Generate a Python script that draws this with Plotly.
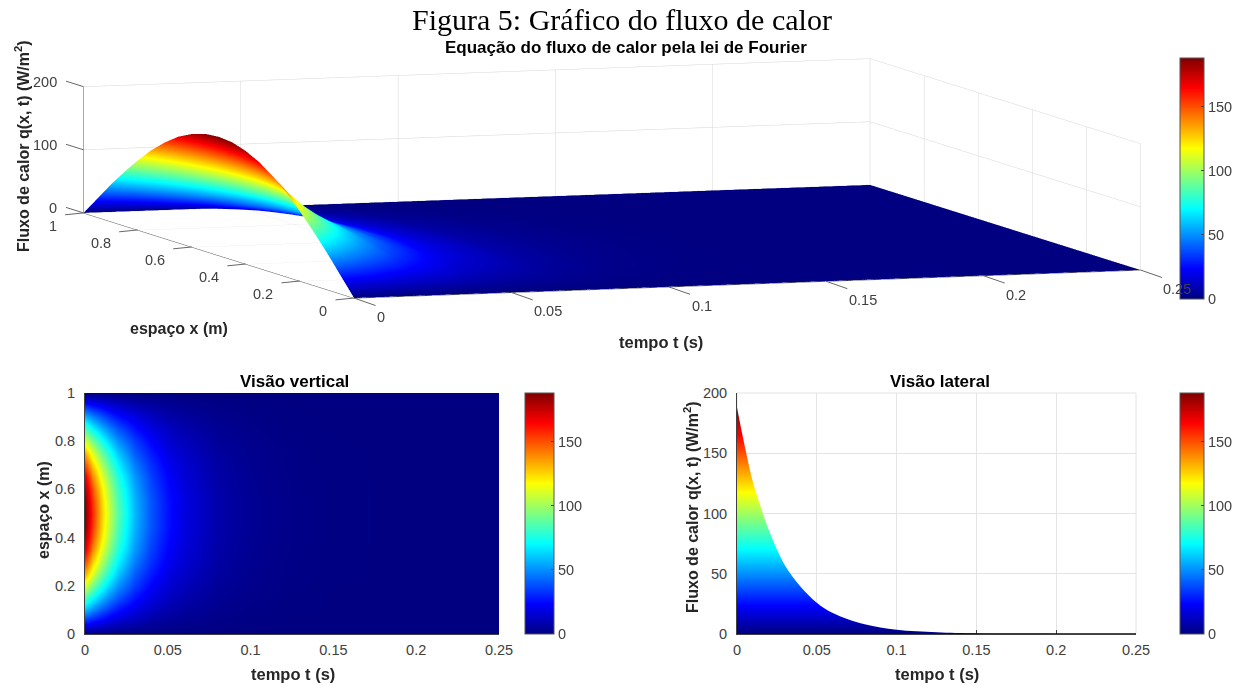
import plotly.graph_objects as go

# Values
tempo_t = [0, .005, .01, .015, .02, .03, .04, .05, .06, .08, .1, .125, .15, .2, .25]
espaco_x = [0, .05, .1, .15, .2, .25, .3, .35, .4, .45, .5,
            .55, .6, .65, .7, .75, .8, .85, .9, .95, 1]
q_x000 = [0]*15
q_x005 = [29, 24, 20, 16, 13, 9, 6, 4, 2.8, 1.2, .5, .2, .1, 0, 0]
q_x010 = [58, 48, 39, 32, 26, 18, 12, 8, 5.6, 2.5, 1.1, .4, .2, 0, 0]
q_x015 = [85, 70, 57, 47, 39, 26, 18, 12, 8.2, 3.6, 1.6, .6, .2, 0, 0]
q_x020 = [110, 91, 74, 61, 50, 34, 23, 15, 11, 4.7, 2.1, .8, .3, .1, 0]
q_x025 = [133, 110, 89, 74, 60, 40, 28, 18, 13, 5.7, 2.5, 1, .4, .1, 0]
q_x030 = [152, 125, 102, 84, 69, 46, 32, 21, 15, 6.5, 2.8, 1.1, .4, .1, 0]
q_x035 = [168, 138, 112, 93, 76, 51, 35, 23, 16, 7.1, 3.1, 1.2, .4, .1, 0]
q_x040 = [179, 147, 120, 99, 81, 54, 37, 25, 17, 7.6, 3.3, 1.3, .5, .1, 0]
q_x045 = [186, 153, 124, 103, 84, 56, 39, 26, 18, 7.9, 3.5, 1.4, .5, .1, 0]
q_x050 = [188, 155, 126, 105, 86, 57, 39, 26, 17.5, 8, 3.5, 1.4, .5, .1, 0]
metade = [q_x000, q_x005, q_x010, q_x015, q_x020, q_x025, q_x030, q_x035, q_x040, q_x045]
q_grade = metade + [q_x050] + metade[::-1]
envelope = q_x050

ticks_t = [0, .05, .1, .15, .2, .25]
ticks_x = [0, .2, .4, .6, .8, 1]
ticks_q = [0, 100, 200]
rotulos_t = ["0", "0.05", "0.1", "0.15", "0.2", "0.25"]
rotulos_x = ["0", "0.2", "0.4", "0.6", "0.8", "1"]
rotulos_q = ["0", "100", "200"]

titulo = "Figura 5: Gráfico do fluxo de calor"
titulo_3d = "Equação do fluxo de calor pela lei de Fourier"
titulo_v = "Visão vertical"
titulo_l = "Visão lateral"
rot_t = "tempo t (s)"
rot_x = "espaço x (m)"
rot_q = "Fluxo de calor q(x, t) (W/m<sup>2</sup>)"

W, H = 1240, 685
SANS = "Liberation Sans"
TICK = "#404040"
GRID = "#e4e4e4"
GRID3D = "#d6d6d6"
jet = [[0, "#000080"], [.125, "#0000ff"], [.375, "#00ffff"], [.625, "#ffff00"], [.875, "#ff0000"], [1, "#800000"]]
CMAX = 188

def px(x): return x / W
def py(y): return 1 - y / H

def cb(x0, x1, y0, y1):
    return dict(x=px(x0), xanchor="left", xref="paper", y=py(y1), yanchor="bottom", yref="paper",
                len=y1 - y0, lenmode="pixels", thickness=x1 - x0, thicknessmode="pixels",
                tickvals=[0, 50, 100, 150], ticks="inside", ticklen=3, tickcolor="#404040", tickprefix="\u00a0",
                tickfont=dict(family=SANS, size=14.5, color=TICK), outlinecolor="#555555", outlinewidth=1,
                xpad=0, ypad=0)

fig = go.Figure()
fig.add_trace(go.Surface(x=tempo_t, y=espaco_x, z=q_grade, colorscale=jet, cmin=0, cmax=CMAX, scene="scene",
                         colorbar=cb(1180, 1204, 58, 299), showscale=True, hoverinfo="skip",
                         lighting=dict(ambient=1, diffuse=0, specular=0, fresnel=0, roughness=1)))
fig.add_trace(go.Heatmap(x=tempo_t, y=espaco_x, z=q_grade, colorscale=jet, zmin=0, zmax=CMAX, zsmooth="best",
                         xaxis="x", yaxis="y", colorbar=cb(525, 554, 393, 634)))
fig.add_trace(go.Scatter(x=tempo_t, y=envelope, mode="lines", fill="tozeroy", xaxis="x2", yaxis="y2",
                         line=dict(width=0, shape="spline", smoothing=1),
                         fillgradient=dict(type="vertical", colorscale=[[a, c] for a, c in jet], start=0, stop=CMAX),
                         showlegend=False))
fig.add_trace(go.Scatter(x=[tempo_t[0], tempo_t[-1]], y=[envelope[-1], envelope[-1]], mode="lines", xaxis="x2", yaxis="y2",
                         line=dict(width=1.5, color="#000080"), showlegend=False))
fig.add_trace(go.Scatter(x=[tempo_t[-1]], y=[envelope[-1]], mode="markers", xaxis="x2", yaxis="y2", showlegend=False,
                         marker=dict(size=1, opacity=0, color=[envelope[-1]], colorscale=jet, cmin=0, cmax=CMAX,
                                     colorbar=cb(1180, 1204, 393, 634))))

def ax2(x0, x1, **kw):
    return dict(domain=[x0, x1], showline=True, linecolor="#404040", linewidth=1, ticks="inside", ticklen=4,
                tickcolor="#404040", tickfont=dict(family=SANS, size=14.5, color=TICK), zeroline=False,
                layer="below traces", **kw)

def ax3(rng, dt, **kw):
    return dict(range=rng, dtick=dt, tick0=0, autorange=False, title=dict(text=""), showbackground=False,
                showgrid=True, gridcolor=GRID3D, gridwidth=1, zeroline=False, showline=True, linecolor="#555555", linewidth=1,
                showspikes=False, ticks="", showticklabels=False, **kw)

def rotulo3d(a, b, c, texto, ax, ay, xanchor, xs, ys):
    marca = dict(x=a, y=b, z=c, text=" ", showarrow=True, arrowhead=0, arrowwidth=1, arrowcolor="#666666",
                 ax=ax, ay=ay, font=dict(size=1))
    txt = dict(x=a, y=b, z=c, text=texto, showarrow=False, xanchor=xanchor, yanchor="middle", xshift=xs, yshift=ys,
               font=dict(family=SANS, size=14.5, color=TICK))
    return [marca, txt]

anot3d = []
for v, s in zip(ticks_t, rotulos_t):
    anot3d += rotulo3d(v, 0, 0, s, 23, 8, "left", 21, -19)
for v, s in zip(ticks_x, rotulos_x):
    anot3d += rotulo3d(0, v, 0, s, -20, 2, "right", -25, -13)
for v, s in zip(ticks_q, rotulos_q):
    anot3d += rotulo3d(0, 1, v, s, -19, -6, "right", -25, 5)

E = 8
K = 4.75
fig.update_layout(
    width=W, height=H, margin=dict(l=0, r=0, t=0, b=0, autoexpand=False), paper_bgcolor="white", plot_bgcolor="white", showlegend=False,
    scene=dict(domain=dict(x=[0, 1224/W], y=[1 - 357/H, 1]),
               xaxis=ax3([0, .25], .05), yaxis=ax3([0, 1], .2), zaxis=ax3([-.5, 200], 100),
               aspectmode="manual", aspectratio=dict(x=K*828/846, y=K, z=K*127/846),
               annotations=anot3d,
               camera=dict(projection=dict(type="orthographic"), up=dict(x=0, y=0, z=1),
                           eye=dict(x=-.3172*E, y=-.9424*E, z=.1059*E))),
    xaxis=ax2(px(85), px(499), range=[0, .25], dtick=.05, anchor="y", showgrid=False, ticklabelstandoff=3),
    yaxis=ax2(py(634), py(393), range=[0, 1], dtick=.2, anchor="x", showgrid=False, ticklabelstandoff=6),
    xaxis2=ax2(px(737), px(1136), range=[0, .25], dtick=.05, anchor="y2", showgrid=True, gridcolor=GRID, ticklabelstandoff=3),
    yaxis2=ax2(py(634), py(393), range=[0, 200], dtick=50, anchor="x2", showgrid=True, gridcolor=GRID, ticklabelstandoff=6),
)
fig.add_shape(type="rect", xref="x2 domain", yref="y2 domain", x0=0, x1=1, y0=0, y1=1,
              line=dict(color=GRID, width=1), layer="below")

def note(text, x, y, size, bold=True, family=SANS, color="#000000", angle=0):
    fig.add_annotation(text=f"<b>{text}</b>" if bold else text, x=px(x), y=py(y), xref="paper", yref="paper",
                       showarrow=False, textangle=angle, font=dict(family=family, size=size, color=color),
                       xanchor="center", yanchor="middle")

note(titulo, 622, 20, 30, bold=False, family="Liberation Serif")
note(titulo_3d, 626, 47, 17)
note(titulo_v, 294, 381, 17)
note(titulo_l, 940, 381, 17)
note(rot_q, 22, 146, 16, color="#262626", angle=-90)
note(rot_x, 179, 328, 16, color="#262626")
note(rot_t, 661, 342, 16.5, color="#262626")
note(rot_t, 293, 674, 16.5, color="#262626")
note(rot_t, 937, 674, 16.5, color="#262626")
note(rot_x, 43, 510, 16, color="#262626", angle=-90)
note(rot_q, 691, 507, 16, color="#262626", angle=-90)

fig.write_html("out.html", config={"displayModeBar": False}, post_script="document.body.style.margin='0';")
